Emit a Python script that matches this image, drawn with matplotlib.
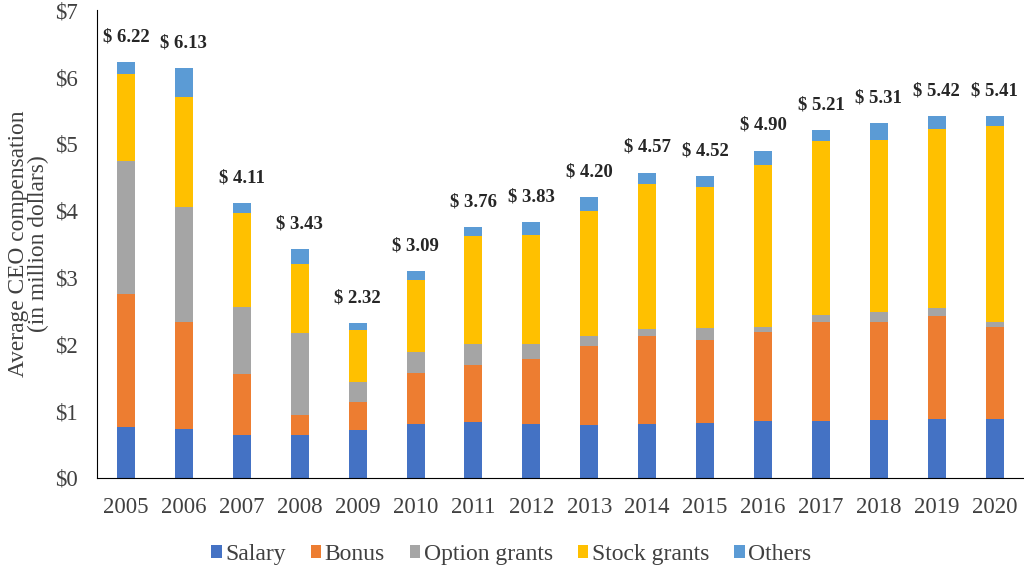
import matplotlib
matplotlib.use("Agg")
import matplotlib.pyplot as plt
import numpy as np

years = ["2005", "2006", "2007", "2008", "2009", "2010", "2011", "2012",
         "2013", "2014", "2015", "2016", "2017", "2018", "2019", "2020"]
salary = [0.77, 0.74, 0.65, 0.65, 0.72, 0.81, 0.84, 0.81, 0.80, 0.81, 0.83, 0.85, 0.86, 0.87, 0.88, 0.89]
bonus = [1.98, 1.60, 0.90, 0.29, 0.42, 0.76, 0.85, 0.97, 1.17, 1.32, 1.24, 1.33, 1.47, 1.47, 1.55, 1.37]
option_grants = [2.00, 1.71, 1.01, 1.23, 0.30, 0.31, 0.31, 0.22, 0.15, 0.10, 0.17, 0.08, 0.11, 0.14, 0.11, 0.07]
stock_grants = [1.29, 1.65, 1.40, 1.03, 0.78, 1.08, 1.62, 1.64, 1.87, 2.17, 2.11, 2.42, 2.60, 2.58, 2.68, 2.94]
others = [0.18, 0.43, 0.15, 0.23, 0.10, 0.13, 0.14, 0.19, 0.21, 0.17, 0.17, 0.22, 0.17, 0.25, 0.20, 0.14]
totals = [6.22, 6.13, 4.11, 3.43, 2.32, 3.09, 3.76, 3.83, 4.20, 4.57, 4.52, 4.90, 5.21, 5.31, 5.42, 5.41]
series_names = ["Salary", "Bonus", "Option grants", "Stock grants", "Others"]
colors = ["#4472C4", "#ED7D31", "#A5A5A5", "#FFC000", "#5B9BD5"]

plt.rcParams['font.family'] = ['Liberation Serif', 'DejaVu Serif']

fig = plt.figure(figsize=(10.24, 5.65), dpi=100)
ax = fig.add_axes([0.0947, 0.154, 0.905, 0.828])

x = np.arange(len(years))
bottom = np.zeros(len(years))
for name, vals, c in zip(series_names, [salary, bonus, option_grants, stock_grants, others], colors):
    vals = np.array(vals)
    ax.bar(x, vals, width=0.31, bottom=bottom, color=c, label=name)
    bottom += vals

for xi, b, t in zip(x, bottom, totals):
    ax.annotate(f"$ {t:.2f}", (xi, b), xytext=(0, 12), textcoords="offset points",
                ha="center", va="bottom", fontsize=13.5, fontweight="bold", color="#262626")

ax.set_xlim(-0.5, 15.5)
ax.set_ylim(0, 7)
ax.set_xticks(x)
ax.set_xticklabels(years, fontsize=16.5, color="#404040")
ax.set_yticks(range(8))
ax.set_yticklabels([f"${i}" for i in range(8)], fontsize=16.5, color="#404040")
ax.tick_params(axis="y", length=0, pad=14)
ax.tick_params(axis="x", length=0, pad=14)
for s in ["top", "right"]:
    ax.spines[s].set_visible(False)
ax.spines["left"].set_color("black")
ax.spines["bottom"].set_color("black")
ax.set_ylabel("Average CEO compensation\n(in million dollars)", fontsize=16.8, color="#404040",
              linespacing=0.95, labelpad=4)

ax.legend(loc="center", bbox_to_anchor=(0.447, -0.163), ncol=5, frameon=False, fontsize=17,
          handlelength=0.45, handleheight=0.45, handletextpad=0.15, columnspacing=1.05,
          labelcolor="#404040")

fig.savefig("out.png", dpi=100)
